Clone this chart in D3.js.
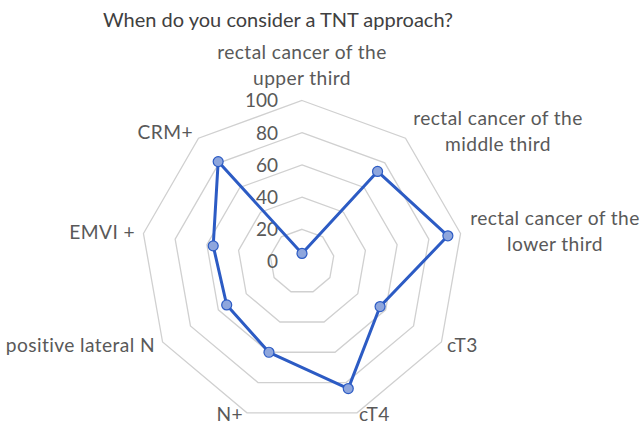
<!DOCTYPE html>
<html><head><meta charset="utf-8">
<script src="https://cdn.jsdelivr.net/npm/d3@7"></script>
<style>body{margin:0;background:#fff}svg{display:block}text{font-family:Lato,"Open Sans",sans-serif}</style>
</head><body><svg id="c" width="644" height="428"></svg>
<script>
const title = "When do you consider a TNT approach?";
const categories = [
  ["rectal cancer of the","upper third"],
  ["rectal cancer of the","middle third"],
  ["rectal cancer of the","lower third"],
  ["cT3"],["cT4"],["N+"],["positive lateral N"],["EMVI +"],["CRM+"]
];
const values = [5, 73, 92, 56, 84, 60, 54, 56, 81];
const ticks = [0, 20, 40, 60, 80, 100];

const svg = d3.select("#c");
const cx = 302, cy = 261.5, R = 161;
const r = d3.scaleLinear().domain([0,100]).range([0,R]);
const n = categories.length;
const ang = d3.scaleLinear().domain([0,n]).range([0, 2*Math.PI]);
const pt = (i,v)=>[cx + r(v)*Math.sin(ang(i)), cy - r(v)*Math.cos(ang(i))];

svg.append("text").attr("x",278).attr("y",27).attr("text-anchor","middle")
  .attr("font-size",20).attr("fill","#404040").text(title);

// grid rings
const g = svg.append("g");
ticks.filter(t=>t>0).forEach(t=>{
  g.append("path").attr("d", d3.line()(d3.range(n).map(i=>pt(i,t))) + "Z")
   .attr("fill","none").attr("stroke","#d0d0d0").attr("stroke-width",1.3);
});

// tick labels
svg.append("g").selectAll("text").data(ticks).join("text")
  .attr("x",278).attr("y",d=>cy - r(d)).attr("dy","0.36em").attr("text-anchor","end")
  .attr("font-size",19).attr("fill","#595959").text(d=>d);

// category labels
const labelPos = [
  {x:302,y:52,a:"middle"},
  {x:498,y:118,a:"middle"},
  {x:555,y:218,a:"middle"},
  {x:447,y:345,a:"start"},
  {x:359,y:414,a:"start"},
  {x:243,y:414,a:"end"},
  {x:155,y:345,a:"end"},
  {x:135,y:232,a:"end"},
  {x:193,y:132,a:"end"}
];
categories.forEach((lines,i)=>{
  const p = labelPos[i];
  const t = svg.append("text").attr("text-anchor",p.a).attr("font-size",19.2)
    .attr("letter-spacing",0.4).attr("fill","#595959");
  lines.forEach((l,k)=>{
    t.append("tspan").attr("x",p.x).attr("y",p.y + k*26).attr("dy","0.36em").text(l);
  });
});

// series
const pts = values.map((v,i)=>pt(i,v));
svg.append("path").attr("d", d3.line()(pts)+"Z").attr("fill","none")
  .attr("stroke","#2c5bc4").attr("stroke-width",3).attr("stroke-linejoin","round");
svg.append("g").selectAll("circle").data(pts).join("circle")
  .attr("cx",d=>d[0]).attr("cy",d=>d[1]).attr("r",5)
  .attr("fill","#8ea6dd").attr("stroke","#2c5bc4").attr("stroke-width",1.2);
</script></body></html>
